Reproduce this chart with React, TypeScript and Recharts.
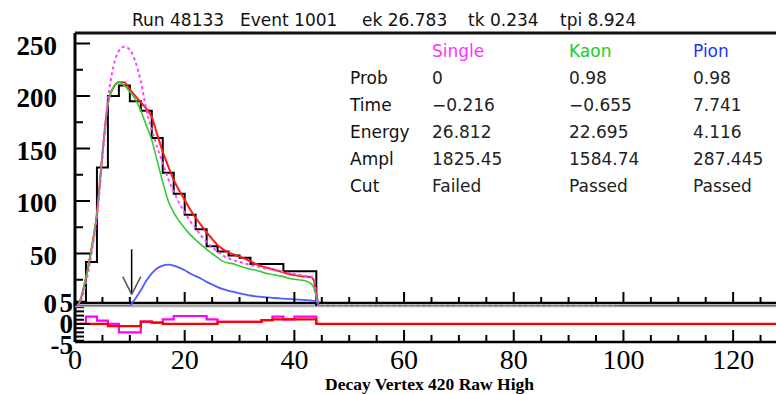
import React from "react";
import { ComposedChart, Line, XAxis, YAxis, ReferenceLine } from "recharts";

// ---------- data ----------
const binEdges = [0, 2, 4, 6, 8, 10, 12, 14, 16, 18, 20, 22, 24, 26, 28, 30, 32, 34, 36, 38, 40, 42];
const histEnd = 44;
const histCounts = [4, 42, 132, 200, 210, 195, 186, 160, 127, 107, 87, 73, 57, 52, 48, 46, 40, 40, 40, 33, 33, 33];

const curveX = [0.5, 1, 2, 3, 4, 5, 6, 7, 8, 9, 10, 11, 12, 13, 14, 15, 16, 17, 18, 19, 20, 21, 22, 23, 24, 25, 26, 27, 28, 29, 30, 31, 32, 33, 34, 35, 36, 37, 38, 39, 40, 41, 42, 43, 43.5, 44, 44.5];
const totalFit = [0, 6, 27, 54, 88, 145, 193, 208, 213, 213, 206, 200, 194, 188, 180, 163, 147, 133, 120, 110, 101, 92, 84, 77, 70, 64, 58, 54, 51, 49, 47, 45, 42.5, 40, 38, 36.5, 35, 33.5, 32, 30.5, 29.5, 28.5, 28, 27.5, 25, 12, 0];
const singleFit = [0, 4, 22, 50, 85, 140, 196, 228, 243, 247, 244, 233, 214, 187, 168, 151, 136, 121, 109, 98, 89, 81, 74, 67, 61, 56, 52, 48, 45.5, 43.5, 42, 40.5, 39, 38, 36.5, 35.5, 34.5, 33.5, 32.5, 31.5, 30.5, 29.5, 28.5, 28, 25, 12, 0];
const kaonFit = [0, 6, 27, 54, 88, 145, 192, 208, 213, 210, 204, 197, 186, 172, 158, 138, 118, 100, 89, 81, 74, 68, 63, 58.5, 54, 50, 46, 42.5, 41, 40, 38, 36.5, 35, 34, 32.5, 31, 30, 29, 28, 26.5, 25.5, 24.7, 24, 21.5, 18, 9, 0];
const pionX = [0, 10, 10.5, 11, 12, 13, 14, 15, 16, 17, 18, 19, 20, 21, 22, 23, 24, 25, 26, 27, 28, 29, 30, 31, 32, 33, 34, 35, 36, 37, 38, 39, 40, 41, 42, 43, 44, 44.5, 99];
const pionFit = [0, 0, 3.5, 7, 15, 24, 31, 36, 38.5, 39.5, 38.5, 36.5, 34, 31, 28.5, 26, 23, 20.5, 18, 16, 14.5, 13.5, 12, 11, 10, 9.2, 8.7, 8.2, 7.8, 7.4, 7, 6.7, 6.3, 6, 5.7, 5.3, 4.5, 0, 0];
const totalTailX = [128];
const singleTailX = [99];

const singleRes = [0, 1.75, 0.8, 0, -2, -2, 0.55, 0.3, 1.1, 1.9, 1.9, 1.9, 1.1, 0.5, 0.5, 0.5, 0.5, 0.9, 1.75, 1.1, 1.75, 1.75];
const totalRes = [0, 0, 0, -0.5, -0.5, -0.5, 0.55, 0.3, 0, 0, 0, 0, 0, 0.5, 0.5, 0.5, 0.5, 0.9, 1.1, 1.1, 1.1, 1.1];

const arrowShaft = [{ x: 10.33, y: 54 }, { x: 10.33, y: 11 }];
const arrowLeft = [{ x: 8.7, y: 28 }, { x: 10.33, y: 11 }];
const arrowRight = [{ x: 12.0, y: 28 }, { x: 10.33, y: 11 }];

const mainYTicks = [0, 25, 50, 75, 100, 125, 150, 175, 200, 225, 250];
const xTicks = [0, 5, 10, 15, 20, 25, 30, 35, 40, 45, 50, 55, 60, 65, 70, 75, 80, 85, 90, 95, 100, 105, 110, 115, 120, 125];
const resYTicks = [-5, -4, -3, -2, -1, 0, 1, 2, 3, 4, 5];

const titleParts = ["Run 48133", "Event 1001", "ek 26.783", "tk 0.234", "tpi 8.924"];
const tableHeaders = ["Single", "Kaon", "Pion"];
const rowLabels = ["Prob", "Time", "Energy", "Ampl", "Cut"];
const singleVals = ["0", "\u22120.216", "26.812", "1825.45", "Failed"];
const kaonVals = ["0.98", "\u22120.655", "22.695", "1584.74", "Passed"];
const pionVals = ["0.98", "7.741", "4.116", "287.445", "Passed"];
const xTitle = "Decay Vertex 420 Raw High";

// ---------- derived tables ----------
const histData = binEdges.map((x, i) => ({ x, y: histCounts[i] })).concat([{ x: histEnd, y: 0 }]);
const totalData = curveX.map((x, i) => ({ x, y: totalFit[i] })).concat(totalTailX.map((x) => ({ x, y: 0 })));
const singleData = curveX.map((x, i) => ({ x, y: singleFit[i] })).concat(singleTailX.map((x) => ({ x, y: 0 })));
const kaonData = curveX.map((x, i) => ({ x, y: kaonFit[i] }));
const pionData = pionX.map((x, i) => ({ x, y: pionFit[i] }));
const singleResData = binEdges.map((x, i) => ({ x, y: singleRes[i] })).concat([{ x: histEnd, y: 0 }]);
const totalResData = binEdges.map((x, i) => ({ x, y: totalRes[i] })).concat([{ x: histEnd, y: 0 }], totalTailX.map((x) => ({ x, y: 0 })));

const SERIF = "'Liberation Serif', 'Times New Roman', serif";
const SANS = "'DejaVu Sans', sans-serif";

const MainYTick = (props: any) => {
  const { x, y, payload } = props;
  const v = payload.value;
  const major = v % 50 === 0;
  return (
    <g>
      {v !== 0 && <line x1={x} y1={y} x2={x + (major ? 15 : 8)} y2={y} stroke="#000" strokeWidth={2} />}
      {major && (
        <text x={x - 18} y={y + (v === 0 ? 7 : 11)} textAnchor="end" fontFamily={SERIF} fontWeight="bold" fontSize={27} fill="#000">
          {v}
        </text>
      )}
    </g>
  );
};

const MainXTick = (props: any) => {
  const { x, y, payload } = props;
  const v = payload.value;
  if (v === 0) return <g />;
  const major = v % 20 === 0;
  return <line x1={x} y1={y - 3} x2={x} y2={y - 3 - (major ? 11 : 6)} stroke="#000" strokeWidth={2} />;
};

const ResYTick = (props: any) => {
  const { x, y, payload } = props;
  const v = payload.value;
  const labeled = v % 5 === 0;
  const showLine = Math.abs(v) < 5;
  return (
    <g>
      {showLine && <line x1={x} y1={y} x2={x + (v === 0 ? 15 : 9)} y2={y} stroke="#000" strokeWidth={2} />}
      {labeled && (
        <text x={x - 2} y={y + 9} textAnchor="end" fontFamily={SERIF} fontWeight="bold" fontSize={27} fill="#000">
          {v}
        </text>
      )}
    </g>
  );
};

const ResXTick = (props: any) => {
  const { x, y, payload } = props;
  const v = payload.value;
  const major = v % 20 === 0;
  return (
    <g>
      {v !== 0 && <line x1={x} y1={y} x2={x} y2={y - (major ? 12 : 7)} stroke="#000" strokeWidth={2} />}
      {major && (
        <text x={x} y={y + 27} textAnchor="middle" fontFamily={SERIF} fontSize={28} fill="#000">
          {v}
        </text>
      )}
    </g>
  );
};

const W = 800;
const H = 400;

export default function App() {
  const colX = [432, 569, 693];
  const colVals = [singleVals, kaonVals, pionVals];
  const headColors = ["#ff33ff", "#22cc22", "#2233ff"];
  const titleX = [132, 240, 362, 468, 560];
  return (
    <div style={{ position: "absolute", left: 0, top: 0, width: 776, height: 394, overflow: "hidden", background: "#fff" }}>
      {/* lower residual panel */}
      <div style={{ position: "absolute", left: 0, top: 0 }}>
        <ComposedChart width={W} height={H} margin={{ top: 303, right: 23, bottom: 28, left: 0 }}>
          <XAxis
            dataKey="x"
            type="number"
            domain={[0, 128]}
            allowDataOverflow
            ticks={xTicks}
            interval={0}
            height={30}
            tickSize={0}
            tickMargin={0}
            tickLine={false}
            axisLine={{ stroke: "#000", strokeWidth: 2.5 }}
            tick={<ResXTick />}
          />
          <YAxis
            type="number"
            domain={[-4.3, 5]}
            allowDataOverflow
            ticks={resYTicks}
            interval={0}
            width={75}
            tickSize={0}
            tickMargin={0}
            tickLine={false}
            axisLine={{ stroke: "#000", strokeWidth: 3 }}
            tick={<ResYTick />}
          />
          <ReferenceLine y={5} stroke="#000" strokeWidth={2.5} />
          <Line data={singleResData} dataKey="y" type="stepAfter" stroke="#ff00ff" strokeWidth={2.2} dot={false} isAnimationActive={false} />
          <Line data={totalResData} dataKey="y" type="stepAfter" stroke="#ff0000" strokeWidth={2.2} dot={false} isAnimationActive={false} />
        </ComposedChart>
      </div>
      {/* main panel */}
      <div style={{ position: "absolute", left: 0, top: 0 }}>
        <ComposedChart width={W} height={H} margin={{ top: 33, right: 23, bottom: 74, left: 0 }}>
          <XAxis
            dataKey="x"
            type="number"
            domain={[0, 128]}
            allowDataOverflow
            ticks={xTicks}
            interval={0}
            height={20}
            tickSize={0}
            tickMargin={0}
            tickLine={false}
            axisLine={false}
            tick={<MainXTick />}
          />
          <YAxis
            type="number"
            domain={[0, 260]}
            allowDataOverflow
            ticks={mainYTicks}
            interval={0}
            width={75}
            tickSize={0}
            tickMargin={0}
            tickLine={false}
            axisLine={{ stroke: "#000", strokeWidth: 3 }}
            tick={<MainYTick />}
          />
          <ReferenceLine y={260} stroke="#111" strokeWidth={3} />
          <ReferenceLine y={0} stroke="#aaaaaa" strokeWidth={2.5} />
          <Line data={histData} dataKey="y" type="stepAfter" stroke="#000" strokeWidth={2} dot={false} isAnimationActive={false} />
          <Line data={totalData} dataKey="y" type="monotone" stroke="#ff1a1a" strokeWidth={2} dot={false} isAnimationActive={false} />
          <Line data={kaonData} dataKey="y" type="monotone" stroke="#33cc33" strokeWidth={1.6} dot={false} isAnimationActive={false} />
          <Line data={pionData} dataKey="y" type="monotone" stroke="#4f5cff" strokeWidth={1.8} dot={false} isAnimationActive={false} />
          <Line data={singleData} dataKey="y" type="monotone" stroke="#ff40ff" strokeWidth={2} strokeDasharray="3 3" dot={false} isAnimationActive={false} />
          <ReferenceLine segment={arrowShaft} stroke="#000" strokeWidth={1.5} />
          <ReferenceLine segment={arrowLeft} stroke="#555" strokeWidth={1.5} />
          <ReferenceLine segment={arrowRight} stroke="#555" strokeWidth={1.5} />
        </ComposedChart>
      </div>
      {/* texts */}
      <svg width={776} height={394} style={{ position: "absolute", left: 0, top: 0 }}>
        {titleParts.map((t, i) => (
          <text key={t} x={titleX[i]} y={26} fontFamily={SANS} fontSize={17} fill="#111">
            {t}
          </text>
        ))}
        {tableHeaders.map((h, i) => (
          <text key={h} x={colX[i]} y={57} fontFamily={SANS} fontSize={17} fill={headColors[i]}>
            {h}
          </text>
        ))}
        {rowLabels.map((r, j) => (
          <g key={r}>
            <text x={350} y={84 + j * 27} fontFamily={SANS} fontSize={17} fill="#111">
              {r}
            </text>
            {colVals.map((vals, i) => (
              <text key={i} x={colX[i]} y={84 + j * 27} fontFamily={SANS} fontSize={17} fill="#222">
                {vals[j]}
              </text>
            ))}
          </g>
        ))}
        <text x={325} y={390} fontFamily={SERIF} fontWeight="bold" fontSize={17.5} fill="#000">
          {xTitle}
        </text>
      </svg>
    </div>
  );
}
